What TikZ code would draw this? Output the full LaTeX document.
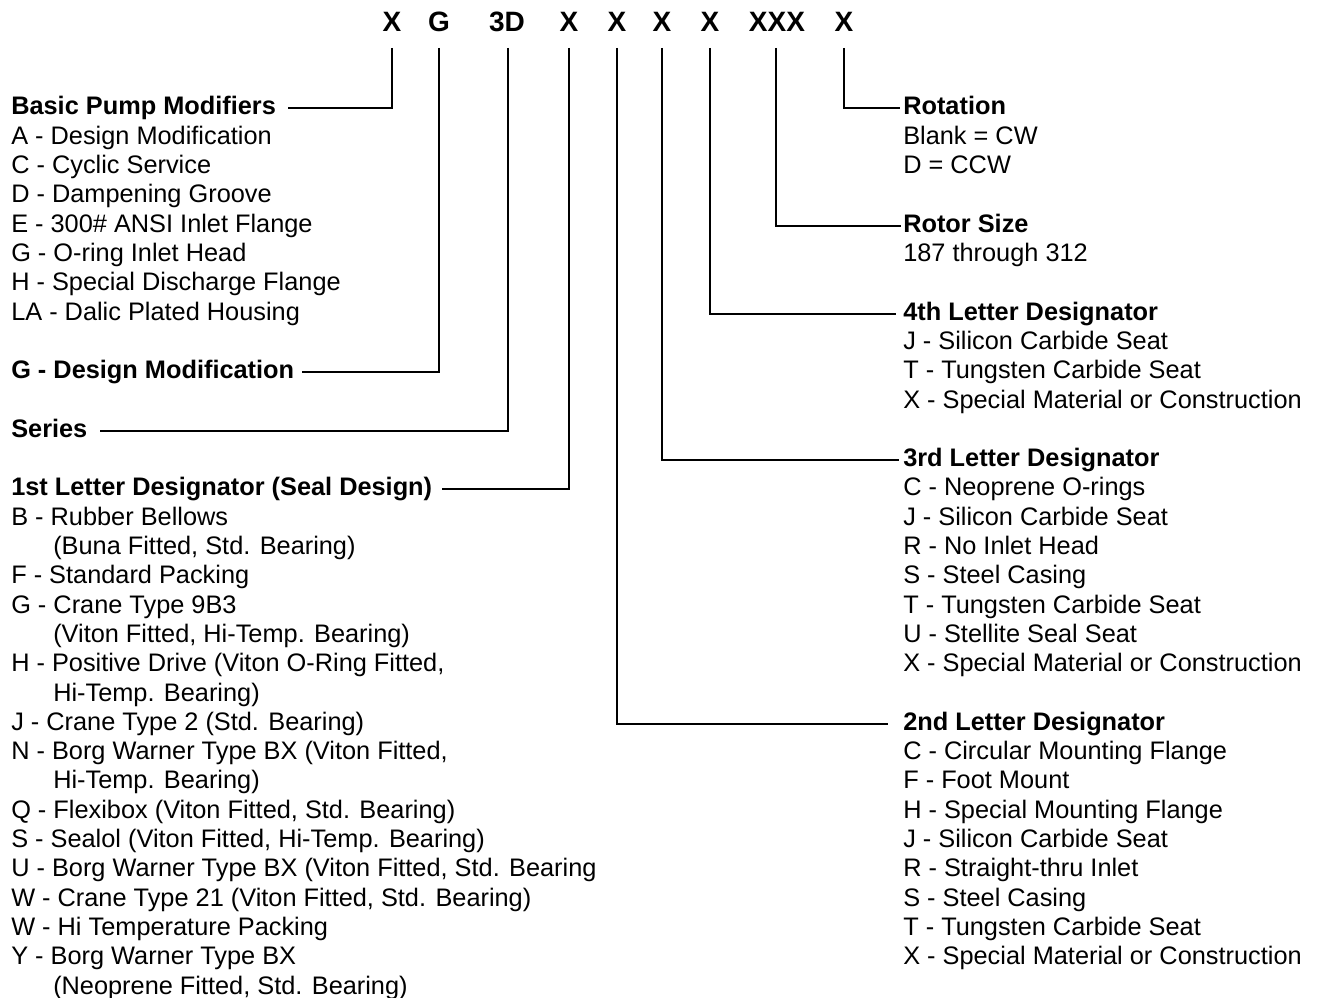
\documentclass[tikz,border=0pt]{standalone}
\usepackage{fontspec}
\setmainfont{Liberation Sans}
\begin{document}
\begin{tikzpicture}[x=0.75pt,y=-0.75pt,
  itm/.style={anchor=base west, inner sep=0pt, font=\fontsize{19}{22}\selectfont},
  hd/.style={itm, font=\fontsize{19}{22}\selectfont\bfseries},
  code/.style={anchor=base, inner sep=0pt, font=\fontsize{21}{22}\selectfont\bfseries},
  conn/.style={line width=1.5pt, line join=miter}]
\useasboundingbox (0,0) rectangle (1320,998);
\def\rp{29.3}
\def\ry#1{{106+\rp*#1+9}}
% top code
\node[code] (t1) at (392,31.7) {X};
\node[code] (t2) at (439,31.7) {G};
\node[code] (t3) at (507,31.7) {3D};
\node[code] (t4) at (569,31.7) {X};
\node[code] (t5) at (617,31.7) {X};
\node[code] (t6) at (662,31.7) {X};
\node[code] (t7) at (710,31.7) {X};
\node[code] (t8) at (777,31.7) {XXX};
\node[code] (t9) at (844,31.7) {X};
% left column
\node[hd] (bpm) at (11,\ry{0}) {Basic Pump Modifiers};
\foreach \r/\t in {1/A - Design Modification, 2/C - Cyclic Service, 3/D - Dampening Groove,
  4/E - 300\# ANSI Inlet Flange, 5/G - O-ring Inlet Head, 6/H - Special Discharge Flange,
  7/LA - Dalic Plated Housing}
  \node[itm] (bpm\r) at (11,\ry{\r}) {\t};
\node[hd] (gdm) at (11,\ry{9}) {G - Design Modification};
\node[hd] (ser) at (11,\ry{11}) {Series};
\node[hd] (fld) at (11,\ry{13}) {1st Letter Designator (Seal Design)};
\foreach \r/\xx/\t in {14/11/B - Rubber Bellows, 15/53/{(Buna Fitted, Std. Bearing)},
  16/11/F - Standard Packing, 17/11/G - Crane Type 9B3,
  18/53/{(Viton Fitted, Hi-Temp. Bearing)}, 19/11/{H - Positive Drive (Viton O-Ring Fitted,},
  20/53/{Hi-Temp. Bearing)}, 21/11/{J - Crane Type 2 (Std. Bearing)},
  22/11/{N - Borg Warner Type BX (Viton Fitted,}, 23/53/{Hi-Temp. Bearing)},
  24/11/{Q - Flexibox (Viton Fitted, Std. Bearing)}, 25/11/{S - Sealol (Viton Fitted, Hi-Temp. Bearing)},
  26/11/{U - Borg Warner Type BX (Viton Fitted, Std. Bearing}, 27/11/{W - Crane Type 21 (Viton Fitted, Std. Bearing)},
  28/11/W - Hi Temperature Packing, 29/11/Y - Borg Warner Type BX,
  30/53/{(Neoprene Fitted, Std. Bearing)}}
  \node[itm] (fld\r) at (\xx,\ry{\r}) {\t};
% right column
\node[hd] (rot) at (903,\ry{0}) {Rotation};
\node[itm] (rot1) at (903,\ry{1}) {Blank = CW};
\node[itm] (rot2) at (903,\ry{2}) {D = CCW};
\node[hd] (rsz) at (903,\ry{4}) {Rotor Size};
\node[itm] (rsz1) at (903,\ry{5}) {187 through 312};
\node[hd] (l4) at (903,\ry{7}) {4th Letter Designator};
\foreach \r/\t in {8/J - Silicon Carbide Seat, 9/T - Tungsten Carbide Seat, 10/X - Special Material or Construction}
  \node[itm] (l4r\r) at (903,\ry{\r}) {\t};
\node[hd] (l3) at (903,\ry{12}) {3rd Letter Designator};
\foreach \r/\t in {13/C - Neoprene O-rings, 14/J - Silicon Carbide Seat, 15/R - No Inlet Head,
  16/S - Steel Casing, 17/T - Tungsten Carbide Seat, 18/U - Stellite Seal Seat,
  19/X - Special Material or Construction}
  \node[itm] (l3r\r) at (903,\ry{\r}) {\t};
\node[hd] (l2) at (903,\ry{21}) {2nd Letter Designator};
\foreach \r/\t in {22/C - Circular Mounting Flange, 23/F - Foot Mount, 24/H - Special Mounting Flange,
  25/J - Silicon Carbide Seat, 26/R - Straight-thru Inlet, 27/S - Steel Casing,
  28/T - Tungsten Carbide Seat, 29/X - Special Material or Construction}
  \node[itm] (l2r\r) at (903,\ry{\r}) {\t};
% connectors
\draw[conn] ([yshift=-12.2pt]t1.base) |- ([xshift=9pt,yshift=4.9pt]bpm.base east);
\draw[conn] ([yshift=-12.2pt]t2.base) |- ([xshift=6pt,yshift=4.9pt]gdm.base east);
\draw[conn] ([xshift=0.75pt,yshift=-12.2pt]t3.base) |- ([xshift=9pt,yshift=4.9pt]ser.base east);
\draw[conn] ([yshift=-12.2pt]t4.base) |- ([xshift=7pt,yshift=4.9pt]fld.base east);
\draw[conn] ([yshift=-12.2pt]t5.base) |- ([xshift=-11pt,yshift=4.9pt]l2.base west);
\draw[conn] ([yshift=-12.2pt]t6.base) |- ([xshift=-3pt,yshift=4.9pt]l3.base west);
\draw[conn] ([yshift=-12.2pt]t7.base) |- ([xshift=-5pt,yshift=4.9pt]l4.base west);
\draw[conn] ([xshift=-0.75pt,yshift=-12.2pt]t8.base) |- ([xshift=-1.5pt,yshift=4.9pt]rsz.base west);
\draw[conn] ([yshift=-12.2pt]t9.base) |- ([xshift=-2pt,yshift=4.9pt]rot.base west);
\end{tikzpicture}
\end{document}
